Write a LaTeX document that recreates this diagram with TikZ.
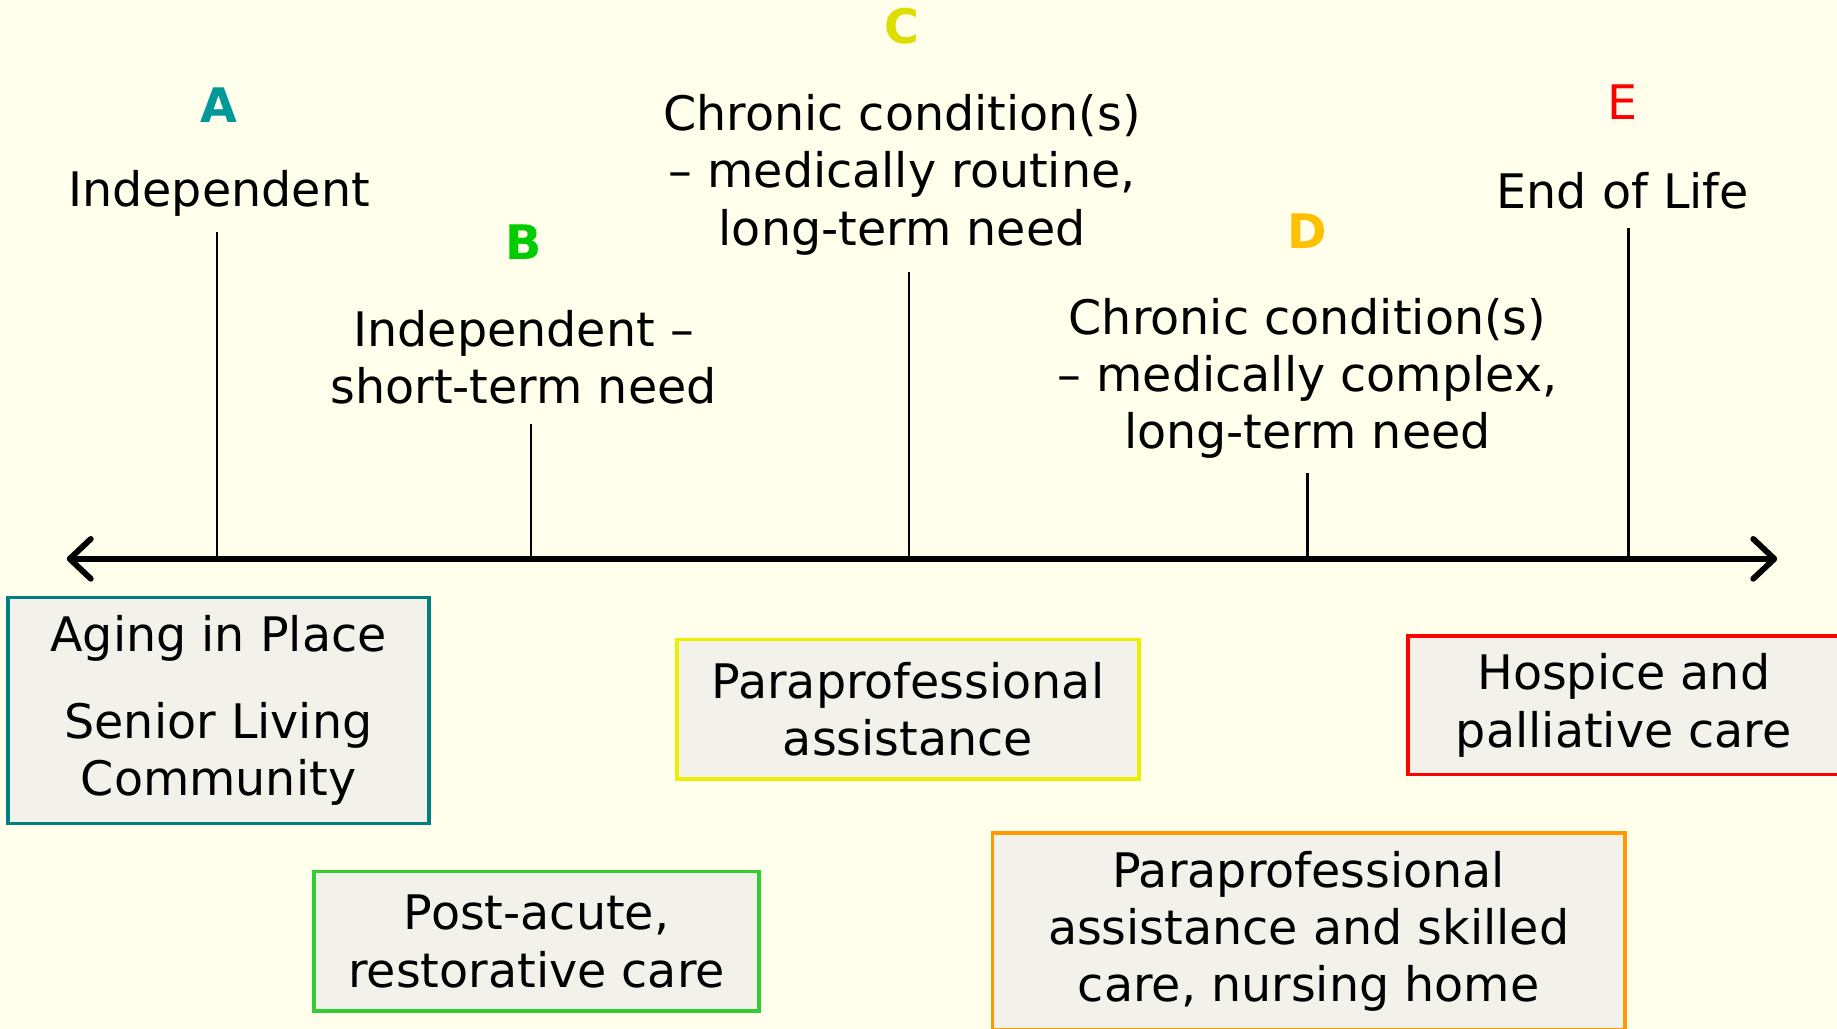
\documentclass[tikz,border=0pt]{standalone}
\usepackage{fontspec}
\setmainfont{DejaVu Sans}
\usetikzlibrary{arrows.meta,positioning}
\definecolor{cream}{HTML}{FFFFEC}
\definecolor{boxfill}{HTML}{F2F2EA}
\definecolor{tealA}{HTML}{009999}
\definecolor{tealline}{HTML}{008080}
\definecolor{greenB}{HTML}{00CC00}
\definecolor{greenline}{HTML}{33CC33}
\definecolor{yellowC}{HTML}{DDDD00}
\definecolor{yellowline}{HTML}{EEEE00}
\definecolor{goldD}{HTML}{FFC000}
\definecolor{orangeline}{HTML}{FF9900}
\definecolor{redE}{HTML}{FF0000}

\begin{document}
\begin{tikzpicture}[x=0.5pt,y=-0.5pt,
    font=\fontsize{20.3}{24.5}\selectfont,
    stage/.style={align=center,inner sep=0pt},
    tag/.style={font=\fontsize{20.3}{24.5}\selectfont\bfseries,inner sep=0pt},
    care/.style={draw=#1,line width=1.5pt,fill=boxfill,align=center,
                 inner sep=0pt},
    tick/.style={line width=0.9pt},
    timeline/.style={line width=2.5pt,
                     {Straight Barb[length=9pt,width=17pt,round]}-{Straight Barb[length=9pt,width=17pt,round]}}]
  \useasboundingbox (0,0) rectangle (1568,878);
  \fill[cream] (0,0) rectangle (1568,878);
  % stages above the line
  \node[tag,text=tealA] (lblA) at (187,90) {A};
  \node[stage] (indep) at (187,165) {Independent};
  \node[tag,text=greenB] (lblB) at (447,207) {B};
  \node[stage] (short) at (447,305) {Independent –\\short-term need};
  \node[tag,text=yellowC] (lblC) at (770,22) {C};
  \node[stage] (routine) at (770,149) {Chronic condition(s)\\– medically routine,\\long-term need};
  \node[tag,text=goldD] (lblD) at (1116,197) {D};
  \node[stage] (complex) at (1116,323) {Chronic condition(s)\\– medically complex,\\long-term need};
  \node[inner sep=0pt,text=redE] (lblE) at (1385,87) {E};
  \node[stage] (eol) at (1385,163) {End of Life};
  % time line and ticks
  \coordinate (axL) at (57,477);
  \coordinate (axR) at (1517,477);
  \coordinate (tA) at (185,198);
  \coordinate (tB) at (453,362);
  \coordinate (tC) at (776,232);
  \coordinate (tD) at (1116,404);
  \coordinate (tE) at (1390,195);
  \foreach \t in {tA,tB,tC,tD,tE}
    \draw[tick] (\t) -- (\t |- axL);
  \draw[timeline] (axL) -- (axR);
  % care settings
  \node[care=tealline,minimum width=179.5pt,minimum height=96.5pt] (aging) at (186.5,606.5)
    {Aging in Place\\[12.5pt]Senior Living\\Community};
  \node[care=greenline,minimum width=190pt,minimum height=59.5pt] (postacute) at (458,803.5)
    {Post-acute,\\restorative care};
  \node[care=yellowline,minimum width=197pt,minimum height=59.5pt] (parapro) at (775,605.5)
    {Paraprofessional\\assistance};
  \node[care=orangeline,minimum width=270pt,minimum height=84pt] (nursing) at (1117,795)
    {Paraprofessional\\assistance and skilled\\care, nursing home};
  \node[care=redE,minimum width=184pt,minimum height=59pt] (hospice) at (1386,602)
    {Hospice and\\palliative care};
\end{tikzpicture}
\end{document}
